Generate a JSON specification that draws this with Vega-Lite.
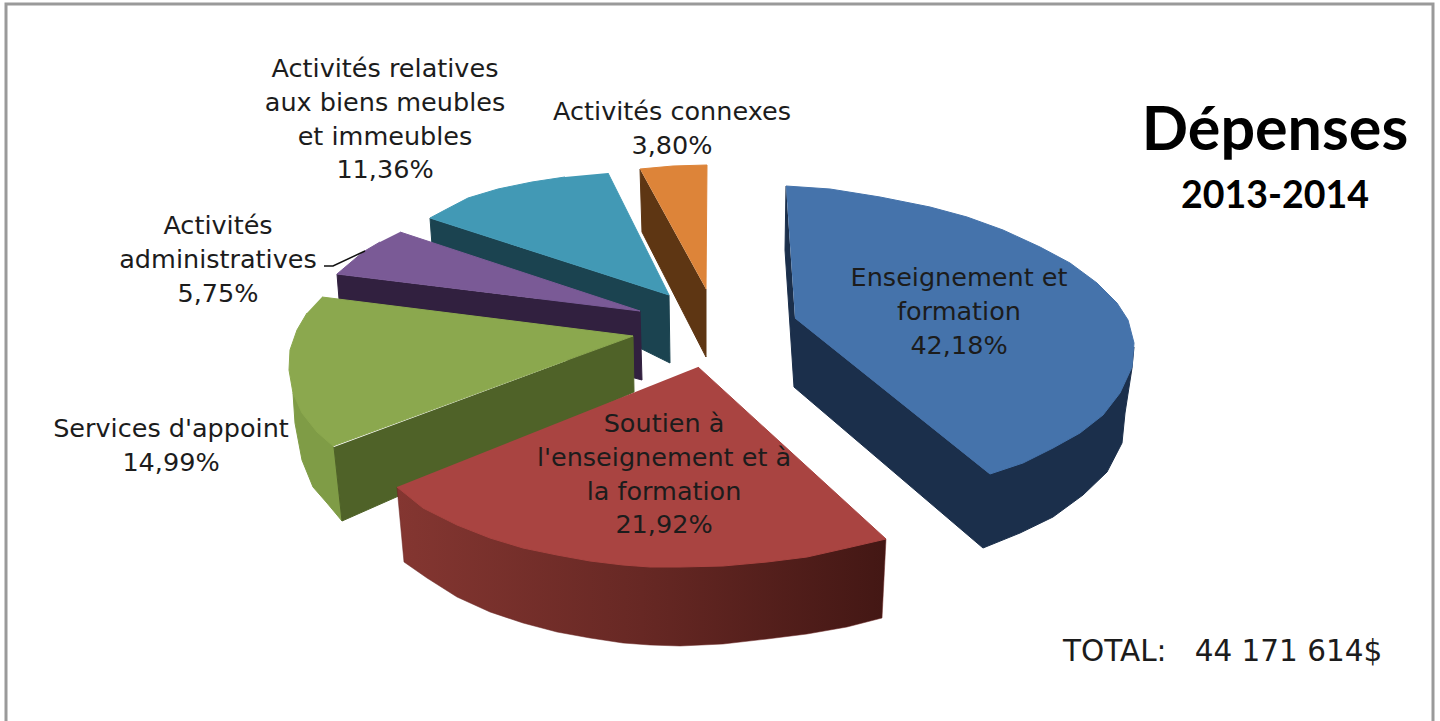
{"$schema":"https://vega.github.io/schema/vega-lite/v6.json","autosize":{"type":"fit","contains":"padding"},"width":1440,"height":721,"padding":0,"background":"white","view":{"stroke":null},
"datasets":{"outlines":[
{"part":"Enseignement-side","o":1,"x":786,"y":186},{"part":"Enseignement-side","o":2,"x":785,"y":250},{"part":"Enseignement-side","o":3,"x":794,"y":387},{"part":"Enseignement-side","o":4,"x":983,"y":548},{"part":"Enseignement-side","o":5,"x":1020,"y":533},{"part":"Enseignement-side","o":6,"x":1053,"y":517},{"part":"Enseignement-side","o":7,"x":1083,"y":495},{"part":"Enseignement-side","o":8,"x":1107,"y":472},{"part":"Enseignement-side","o":9,"x":1122,"y":443},{"part":"Enseignement-side","o":10,"x":1125,"y":413},{"part":"Enseignement-side","o":11,"x":1132,"y":368},{"part":"Enseignement-side","o":12,"x":1134,"y":347},{"part":"Enseignement-side","o":13,"x":990,"y":474},{"part":"Enseignement-side","o":14,"x":795,"y":318},
{"part":"Enseignement-top","o":1,"x":786,"y":186},{"part":"Enseignement-top","o":2,"x":830,"y":189},{"part":"Enseignement-top","o":3,"x":880,"y":197},{"part":"Enseignement-top","o":4,"x":930,"y":207},{"part":"Enseignement-top","o":5,"x":967,"y":217},{"part":"Enseignement-top","o":6,"x":1003,"y":230},{"part":"Enseignement-top","o":7,"x":1040,"y":247},{"part":"Enseignement-top","o":8,"x":1070,"y":263},{"part":"Enseignement-top","o":9,"x":1097,"y":283},{"part":"Enseignement-top","o":10,"x":1117,"y":303},{"part":"Enseignement-top","o":11,"x":1128,"y":320},{"part":"Enseignement-top","o":12,"x":1134,"y":343},{"part":"Enseignement-top","o":13,"x":1132,"y":367},{"part":"Enseignement-top","o":14,"x":1120,"y":393},{"part":"Enseignement-top","o":15,"x":1103,"y":415},{"part":"Enseignement-top","o":16,"x":1080,"y":433},{"part":"Enseignement-top","o":17,"x":1053,"y":448},{"part":"Enseignement-top","o":18,"x":1023,"y":463},{"part":"Enseignement-top","o":19,"x":990,"y":474},{"part":"Enseignement-top","o":20,"x":795,"y":318},
{"part":"Connexes-side","o":1,"x":640,"y":169},{"part":"Connexes-side","o":2,"x":642,"y":232},{"part":"Connexes-side","o":3,"x":706,"y":357},{"part":"Connexes-side","o":4,"x":706,"y":289},
{"part":"Connexes-top","o":1,"x":640,"y":169},{"part":"Connexes-top","o":2,"x":673,"y":166},{"part":"Connexes-top","o":3,"x":707,"y":165},{"part":"Connexes-top","o":4,"x":706,"y":289},
{"part":"Biens-side","o":1,"x":430,"y":218},{"part":"Biens-side","o":2,"x":432,"y":245},{"part":"Biens-side","o":3,"x":670,"y":363},{"part":"Biens-side","o":4,"x":669,"y":295},
{"part":"Biens-top","o":1,"x":608,"y":173},{"part":"Biens-top","o":2,"x":669,"y":295},{"part":"Biens-top","o":3,"x":430,"y":218},{"part":"Biens-top","o":4,"x":445,"y":210},{"part":"Biens-top","o":5,"x":468,"y":198},{"part":"Biens-top","o":6,"x":498,"y":189},{"part":"Biens-top","o":7,"x":532,"y":182},{"part":"Biens-top","o":8,"x":565,"y":177},
{"part":"Admin-side","o":1,"x":337,"y":274},{"part":"Admin-side","o":2,"x":339,"y":299},{"part":"Admin-side","o":3,"x":642,"y":380},{"part":"Admin-side","o":4,"x":640,"y":311},
{"part":"Admin-top","o":1,"x":400,"y":232},{"part":"Admin-top","o":2,"x":640,"y":311},{"part":"Admin-top","o":3,"x":337,"y":274},{"part":"Admin-top","o":4,"x":350,"y":263},{"part":"Admin-top","o":5,"x":363,"y":252},{"part":"Admin-top","o":6,"x":380,"y":242},
{"part":"Appoint-side","o":1,"x":293,"y":393},{"part":"Appoint-side","o":2,"x":295,"y":423},{"part":"Appoint-side","o":3,"x":302,"y":460},{"part":"Appoint-side","o":4,"x":313,"y":487},{"part":"Appoint-side","o":5,"x":327,"y":503},{"part":"Appoint-side","o":6,"x":342,"y":521},{"part":"Appoint-side","o":7,"x":334,"y":447},
{"part":"Appoint-cut","o":1,"x":334,"y":447},{"part":"Appoint-cut","o":2,"x":342,"y":521},{"part":"Appoint-cut","o":3,"x":634,"y":392},{"part":"Appoint-cut","o":4,"x":633,"y":336},
{"part":"Appoint-top","o":1,"x":322,"y":297},{"part":"Appoint-top","o":2,"x":633,"y":336},{"part":"Appoint-top","o":3,"x":333,"y":446},{"part":"Appoint-top","o":4,"x":317,"y":432},{"part":"Appoint-top","o":5,"x":302,"y":413},{"part":"Appoint-top","o":6,"x":293,"y":393},{"part":"Appoint-top","o":7,"x":289,"y":370},{"part":"Appoint-top","o":8,"x":290,"y":350},{"part":"Appoint-top","o":9,"x":297,"y":330},{"part":"Appoint-top","o":10,"x":307,"y":313},
{"part":"Soutien-side","o":1,"x":397,"y":487},{"part":"Soutien-side","o":2,"x":404,"y":562},{"part":"Soutien-side","o":3,"x":427,"y":578},{"part":"Soutien-side","o":4,"x":457,"y":597},{"part":"Soutien-side","o":5,"x":490,"y":612},{"part":"Soutien-side","o":6,"x":523,"y":623},{"part":"Soutien-side","o":7,"x":557,"y":632},{"part":"Soutien-side","o":8,"x":590,"y":638},{"part":"Soutien-side","o":9,"x":623,"y":643},{"part":"Soutien-side","o":10,"x":650,"y":645},{"part":"Soutien-side","o":11,"x":680,"y":646},{"part":"Soutien-side","o":12,"x":723,"y":644},{"part":"Soutien-side","o":13,"x":767,"y":639},{"part":"Soutien-side","o":14,"x":807,"y":634},{"part":"Soutien-side","o":15,"x":847,"y":627},{"part":"Soutien-side","o":16,"x":882,"y":618},{"part":"Soutien-side","o":17,"x":886,"y":539},
{"part":"Soutien-top","o":1,"x":698,"y":367},{"part":"Soutien-top","o":2,"x":886,"y":539},{"part":"Soutien-top","o":3,"x":847,"y":548},{"part":"Soutien-top","o":4,"x":807,"y":557},{"part":"Soutien-top","o":5,"x":767,"y":562},{"part":"Soutien-top","o":6,"x":723,"y":566},{"part":"Soutien-top","o":7,"x":680,"y":567},{"part":"Soutien-top","o":8,"x":650,"y":567},{"part":"Soutien-top","o":9,"x":623,"y":565},{"part":"Soutien-top","o":10,"x":590,"y":561},{"part":"Soutien-top","o":11,"x":557,"y":555},{"part":"Soutien-top","o":12,"x":523,"y":548},{"part":"Soutien-top","o":13,"x":490,"y":538},{"part":"Soutien-top","o":14,"x":457,"y":525},{"part":"Soutien-top","o":15,"x":423,"y":508},{"part":"Soutien-top","o":16,"x":397,"y":487}
],
"labels":[
{"t":"Enseignement et\nformation\n42,18%","x":959,"y":286},
{"t":"Soutien à\nl'enseignement et à\nla formation\n21,92%","x":664,"y":432},
{"t":"Services d'appoint\n14,99%","x":171,"y":437},
{"t":"Activités\nadministratives\n5,75%","x":218,"y":234},
{"t":"Activités relatives\naux biens meubles\net immeubles\n11,36%","x":385,"y":77},
{"t":"Activités connexes\n3,80%","x":672,"y":120}
],
"frame":[{"o":1,"x":6,"y":721},{"o":2,"x":6,"y":4},{"o":3,"x":1433,"y":4},{"o":4,"x":1433,"y":721}],
"leader":[{"o":1,"x":324,"y":266},{"o":2,"x":333,"y":266},{"o":3,"x":365,"y":251}]
},
"encoding":{"x":{"field":"x","type":"quantitative","scale":{"domain":[0,1440],"nice":false,"zero":false},"axis":null},"y":{"field":"y","type":"quantitative","scale":{"domain":[721,0],"nice":false,"zero":false},"axis":null}},
"layer":[
{"data":{"name":"frame"},"mark":{"type":"line","stroke":"#9a9a9a","strokeWidth":3,"clip":true},"encoding":{"order":{"field":"o"}}},
{"data":{"name":"outlines"},"transform":[{"filter":"datum.part!='Soutien-side'&&datum.part!='Soutien-top'"}],"mark":{"type":"line","strokeWidth":1,"strokeJoin":"round"},"encoding":{"order":{"field":"o"},
"fill":{"field":"part","legend":null,"sort":null,"scale":{"domain":["Enseignement-side","Enseignement-top","Connexes-side","Connexes-top","Biens-side","Biens-top","Admin-side","Admin-top","Appoint-side","Appoint-cut","Appoint-top"],"range":["#1b2f4b","#4573ab","#5e3613","#dd8439","#1b4350","#4299b5","#31203f","#7a5a96","#7f9c46","#4f6228","#8ba84e"]}},
"stroke":{"field":"part","legend":null,"sort":null,"scale":{"domain":["Enseignement-side","Enseignement-top","Connexes-side","Connexes-top","Biens-side","Biens-top","Admin-side","Admin-top","Appoint-side","Appoint-cut","Appoint-top"],"range":["#1b2f4b","#4573ab","#5e3613","#dd8439","#1b4350","#4299b5","#31203f","#7a5a96","#7f9c46","#4f6228","#8ba84e"]}}}},
{"data":{"name":"outlines"},"transform":[{"filter":"datum.part=='Soutien-side'"}],"mark":{"type":"line","stroke":"#6a2724","strokeWidth":0.5,"fill":{"gradient":"linear","x1":0,"y1":0,"x2":1,"y2":0,"stops":[{"offset":0,"color":"#843631"},{"offset":0.5,"color":"#672824"},{"offset":1,"color":"#431714"}]}},"encoding":{"order":{"field":"o"}}},
{"data":{"name":"outlines"},"transform":[{"filter":"datum.part=='Soutien-top'"}],"mark":{"type":"line","stroke":"#a94441","strokeWidth":1,"fill":"#a94441"},"encoding":{"order":{"field":"o"}}},
{"data":{"name":"leader"},"mark":{"type":"line","stroke":"#111111","strokeWidth":1.5},"encoding":{"order":{"field":"o"}}},
{"data":{"name":"labels"},"mark":{"type":"text","font":"DejaVu Sans","fontSize":25.5,"lineBreak":"\n","lineHeight":33.8,"align":"center","baseline":"alphabetic","color":"#1c1c1c"},"encoding":{"text":{"field":"t"}}},
{"data":{"values":[{"t":"TOTAL:\u00a0\u00a0\u00a044\u00a0171\u00a0614$","x":1063,"y":661}]},"mark":{"type":"text","font":"DejaVu Sans","fontSize":29.5,"align":"left","baseline":"alphabetic","color":"#1c1c1c"},"encoding":{"text":{"field":"t"}}},
{"data":{"values":[{"t":"Dépenses","x":1275,"y":150}]},"mark":{"type":"text","font":"Lato","fontWeight":"bold","fontSize":61,"align":"center","baseline":"alphabetic","color":"#000000"},"encoding":{"text":{"field":"t"}}},
{"data":{"values":[{"t":"2013-2014","x":1275,"y":208}]},"mark":{"type":"text","font":"Lato","fontWeight":"bold","fontSize":37.5,"align":"center","baseline":"alphabetic","color":"#000000"},"encoding":{"text":{"field":"t"}}}
]}
